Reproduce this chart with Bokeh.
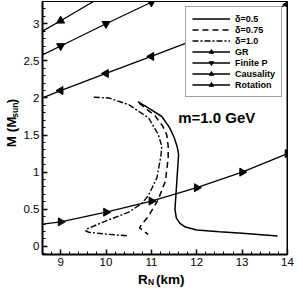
import math
from bokeh.plotting import figure
from bokeh.models import Label, Span, Range1d, SingleIntervalTicker
from bokeh.layouts import column, row
from bokeh.embed import file_html
from bokeh.resources import INLINE

# ---------------- data ----------------
# delta = 0.5 (solid)
d05_r = [10.70, 10.95, 11.23, 11.40, 11.50, 11.57, 11.60, 11.52, 11.55, 11.63, 11.75, 12.00, 12.50, 13.00, 13.78]
d05_m = [1.95, 1.86, 1.75, 1.60, 1.47, 1.34, 1.24, 0.50, 0.38, 0.31, 0.26, 0.22, 0.195, 0.175, 0.14]
# delta = 0.75 (dashed)
d075_r = [10.73, 11.08, 11.25, 11.34, 11.37, 11.37, 11.31, 11.15, 10.93, 10.78, 10.74, 10.93]
d075_m = [1.93, 1.76, 1.62, 1.50, 1.35, 1.19, 0.88, 0.63, 0.40, 0.29, 0.25, 0.16]
# delta = 1.0 (dash-dot)
d10_r = [9.73, 10.06, 10.50, 10.94, 11.15, 11.23, 11.21, 11.12, 10.93, 10.79, 10.50, 9.99, 9.60, 9.55, 9.62, 10.00, 10.50]
d10_m = [2.01, 2.00, 1.91, 1.73, 1.51, 1.35, 1.22, 0.92, 0.68, 0.58, 0.46, 0.34, 0.24, 0.21, 0.19, 0.165, 0.14]

# limit lines
gr_r = [8.6, 9.0, 10.0]
gr_m = [2.90, 3.04, 3.40]
gr_mark_r = [9.0]
gr_mark_m = [3.04]

fp_r = [8.6, 9.0, 10.0, 11.0, 12.0]
fp_m = [2.58, 2.70, 3.00, 3.29, 3.58]
fp_mark_r = [9.0, 10.0, 11.0]
fp_mark_m = [2.70, 3.00, 3.29]

ca_r = [8.6, 9.0, 10.0, 11.0, 14.0]
ca_m = [2.00, 2.10, 2.33, 2.56, 3.26]
ca_mark_r = [9.0, 10.0, 11.0, 14.0]
ca_mark_m = [2.10, 2.33, 2.56, 3.26]

ro_r = [8.6, 9.0, 10.0, 11.0, 12.0, 13.0, 14.0]
ro_m = [0.30, 0.33, 0.46, 0.61, 0.79, 1.00, 1.25]
ro_mark_r = [9.0, 10.0, 11.0, 12.0, 13.0, 14.0]
ro_mark_m = [0.33, 0.46, 0.61, 0.79, 1.00, 1.25]

y_ticks = [0, 0.5, 1, 1.5, 2, 2.5, 3]
y_tick_labels = ["0", "0.5", "1", "1.5", "2", "2.5", "3"]

FONT = "Liberation Sans"

# ---------------- main plot ----------------
p = figure(width=275, height=271,
           x_range=Range1d(8.6, 14.0), y_range=Range1d(-0.11, 3.3),
           output_backend="svg", toolbar_location=None,
           min_border_left=20, min_border_right=8,
           min_border_top=1, min_border_bottom=17)
p.background_fill_color = "white"
p.border_fill_color = "white"
p.xgrid.visible = False
p.ygrid.visible = False
p.outline_line_color = "black"
p.outline_line_width = 1

p.xaxis.ticker = SingleIntervalTicker(interval=1, num_minor_ticks=5)
p.yaxis.ticker = SingleIntervalTicker(interval=0.5, num_minor_ticks=5)
p.yaxis.major_label_overrides = {t: s for t, s in zip(y_ticks, y_tick_labels)}
for ax in (p.xaxis[0], p.yaxis[0]):
    ax.axis_line_width = 2
    ax.axis_line_color = "black"
    ax.major_tick_in = 5
    ax.major_tick_out = 0
    ax.minor_tick_in = 3
    ax.minor_tick_out = 0
    ax.major_tick_line_width = 1.5
    ax.major_tick_line_color = "black"
    ax.minor_tick_line_color = "black"
    ax.major_label_text_font = FONT
    ax.major_label_text_font_size = "11.5px"
    ax.major_label_text_color = "black"
    ax.major_label_standoff = 3

# curves
p.line(d05_r, d05_m, line_color="black", line_width=1.5, legend_label="δ=0.5")
p.line(d075_r, d075_m, line_color="black", line_width=1.5, line_dash="6 4", legend_label="δ=0.75")
p.line(d10_r, d10_m, line_color="black", line_width=1.4, line_dash="6 2 2 2", legend_label="δ=1.0")

# limits
p.line(gr_r, gr_m, line_color="black", line_width=1.3, legend_label="GR")
p.scatter(gr_mark_r, gr_mark_m, marker="triangle", size=8, color="black", legend_label="GR")

p.line(fp_r, fp_m, line_color="black", line_width=1.3, legend_label="Finite P")
p.scatter(fp_mark_r, fp_mark_m, marker="inverted_triangle", size=8, color="black", legend_label="Finite P")

p.line(ca_r, ca_m, line_color="black", line_width=1.3, legend_label="Causality")
p.scatter(ca_mark_r, ca_mark_m, marker="triangle", angle=math.pi / 2, size=8, color="black", legend_label="Causality")

p.line(ro_r, ro_m, line_color="black", line_width=1.3, legend_label="Rotation")
p.scatter(ro_mark_r, ro_mark_m, marker="triangle", angle=-math.pi / 2, size=8, color="black", legend_label="Rotation")

# right border thicker
p.add_layout(Span(location=14.0, dimension="height", line_color="black", line_width=2))

# legend
lg = p.legend[0]
lg.location = "top_right"
lg.margin = 5
lg.padding = 6
lg.spacing = 0
lg.glyph_width = 38
lg.glyph_height = 11
lg.label_height = 11
lg.label_width = 10
lg.label_standoff = 5
lg.label_text_font = FONT
lg.label_text_font_size = "9px"
lg.label_text_font_style = "bold"
lg.label_text_color = "black"
lg.border_line_color = "#444444"
lg.border_line_width = 1
lg.background_fill_color = "white"
lg.background_fill_alpha = 1.0

# annotation
p.add_layout(Label(x=11.59, y=1.74, text="m=1.0 GeV", text_font=FONT, text_font_size="15px",
                   text_font_style="bold", text_align="left", text_baseline="alphabetic",
                   text_color="black"))


def title_canvas(w, h):
    f = figure(width=w, height=h, x_range=Range1d(0, w), y_range=Range1d(0, h),
               output_backend="svg", toolbar_location=None,
               x_axis_location=None, y_axis_location=None,
               min_border=0, min_border_left=0, min_border_right=0,
               min_border_top=0, min_border_bottom=0)
    f.outline_line_color = None
    f.xgrid.visible = False
    f.ygrid.visible = False
    f.background_fill_color = "white"
    f.border_fill_color = "white"
    return f


def txt(f, x, y, s, size, angle=0.0):
    f.add_layout(Label(x=x, y=y, text=s, angle=angle, text_font=FONT, text_font_size=size,
                       text_font_style="bold", text_align="left", text_baseline="alphabetic",
                       text_color="black"))


# y-axis title:  M (M_sun)
ylab = title_canvas(20, 271)
txt(ylab, 10.5, 115, "M (M", "13.5px", math.pi / 2)
txt(ylab, 14.0, 146.5, "sun", "8.5px", math.pi / 2)
txt(ylab, 10.5, 162, ")", "13.5px", math.pi / 2)

# x-axis title:  R_N (km)
xlab = title_canvas(295, 20)
txt(xlab, 137.5, 12.3, "R", "13.5px")
txt(xlab, 147.5, 9.5, "N", "8.5px")
txt(xlab, 155.5, 12.3, "(km)", "13.5px")

layout = column(row(ylab, p, spacing=0), xlab, spacing=0)

open("out.html", "w").write(file_html(layout, INLINE))
